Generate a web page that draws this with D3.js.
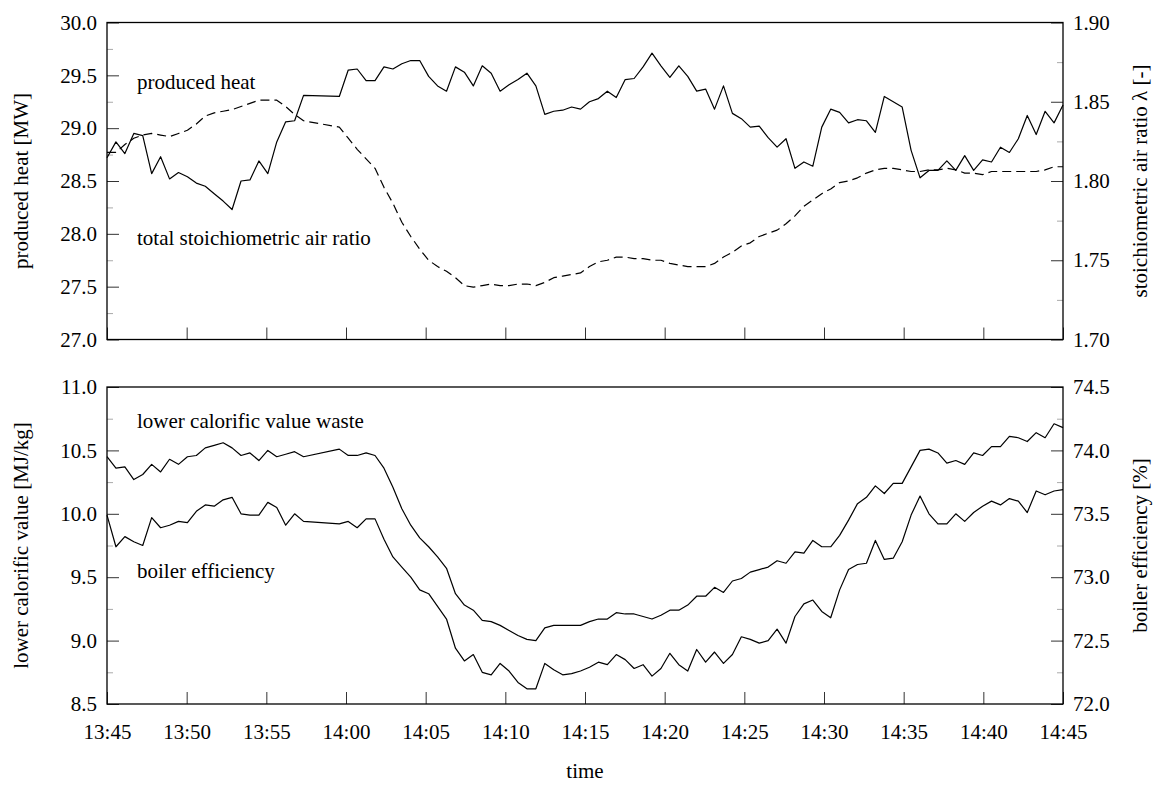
<!DOCTYPE html>
<html><head><meta charset="utf-8">
<script src="https://cdn.jsdelivr.net/npm/d3@7"></script>
<style>
body{margin:0;background:#fff}
svg text{font-family:"Liberation Serif","Times New Roman",serif;fill:#000}
</style>
</head><body><svg id="chart" width="1164" height="788"></svg>
<script>
// ---------- data ----------
const startTime = "13:45";
const endTime = "14:45";
const sampleCount = 108; // evenly spaced samples between start and end (null = no sample drawn)
const xTickLabels = ["13:45","13:50","13:55","14:00","14:05","14:10","14:15","14:20","14:25","14:30","14:35","14:40","14:45"];

const producedHeat = [
 28.72,28.87,28.76,28.95,28.93,28.57,28.73,28.52,28.58,28.54,
 28.48,28.45,28.38,28.31,28.23,28.50,28.51,28.69,28.57,28.87,
 29.06,29.07,29.31,null,null,null,29.30,29.55,29.56,29.45,
 29.45,29.58,29.56,29.61,29.64,29.64,29.49,29.40,29.35,29.58,
 29.53,29.40,29.59,29.52,29.35,29.41,29.46,29.52,29.40,29.13,
 29.16,29.17,29.20,29.18,29.25,29.28,29.35,29.29,29.46,29.47,
 29.58,29.71,29.59,29.48,29.59,29.49,29.35,29.37,29.18,29.40,
 29.14,29.09,29.01,29.02,28.91,28.82,28.90,28.62,28.68,28.64,
 29.01,29.18,29.15,29.05,29.08,29.07,28.96,29.30,null,29.20,
 28.79,28.53,28.60,28.60,28.69,28.60,28.74,28.60,28.70,28.68,
 28.82,28.77,28.90,29.12,28.94,29.16,29.05,29.22];

const airRatio = [
 1.818,1.818,1.823,1.827,1.829,1.830,1.829,1.828,1.830,1.832,
 1.836,1.841,1.843,1.844,1.845,1.847,1.849,1.851,1.851,1.851,
 1.847,1.842,1.838,null,null,null,1.834,1.827,1.820,1.814,
 1.808,1.796,1.786,1.774,1.765,1.757,1.750,1.746,1.743,1.739,
 1.734,1.733,1.734,1.735,1.734,1.734,1.735,1.735,1.734,1.736,
 1.739,1.740,1.741,1.742,1.746,1.749,1.750,1.752,1.752,1.751,
 1.751,1.750,1.750,1.748,1.747,1.746,1.746,1.746,1.748,1.752,
 1.755,1.759,1.761,1.765,1.767,1.769,1.773,1.778,1.784,1.788,
 1.792,1.795,1.799,1.800,1.802,1.805,1.807,1.808,1.808,1.807,
 1.806,1.806,1.807,1.807,1.808,1.807,1.805,1.805,1.804,1.806,
 1.806,1.806,1.806,1.806,1.806,1.807,1.809,1.809];

const lowerCalorificValue = [
 10.45,10.36,10.37,10.27,10.31,10.39,10.33,10.43,10.39,10.45,
 10.46,10.52,10.54,10.56,10.52,10.46,10.48,10.42,10.50,10.45,
 10.47,10.49,10.45,null,null,null,10.51,10.46,10.46,10.48,
 10.46,10.36,10.21,10.04,9.91,9.81,9.74,9.66,9.57,9.37,
 9.28,9.24,9.16,9.15,9.12,9.08,9.04,9.01,9.00,9.10,
 9.12,9.12,9.12,9.12,9.15,9.17,9.17,9.22,9.21,9.21,
 9.19,9.17,9.20,9.24,9.24,9.28,9.35,9.35,9.42,9.38,
 9.47,9.49,9.54,9.56,9.58,9.63,9.61,9.70,9.69,9.79,
 9.74,9.74,9.83,9.95,10.08,10.13,10.22,10.16,10.24,10.24,
 10.37,10.50,10.51,10.48,10.40,10.42,10.39,10.48,10.46,10.53,
 10.53,10.61,10.60,10.57,10.64,10.60,10.71,10.68];

const boilerEfficiency = [
 73.49,73.24,73.32,73.28,73.25,73.47,73.39,73.41,73.44,73.43,
 73.52,73.57,73.56,73.61,73.63,73.50,73.49,73.49,73.59,73.55,
 73.41,73.50,73.44,null,null,null,73.42,73.44,73.39,73.46,
 73.46,73.30,73.16,73.08,73.00,72.90,72.87,72.77,72.67,72.44,
 72.34,72.39,72.25,72.23,72.32,72.26,72.17,72.12,72.12,72.32,
 72.27,72.23,72.24,72.26,72.29,72.33,72.31,72.39,72.35,72.28,
 72.31,72.22,72.28,72.40,72.31,72.26,72.43,72.33,72.41,72.32,
 72.39,72.53,72.51,72.48,72.50,72.59,72.48,72.69,72.79,72.82,
 72.73,72.68,72.90,73.06,73.10,73.11,73.29,73.14,73.15,73.28,
 73.49,73.64,73.50,73.42,73.42,73.50,73.44,73.51,73.56,73.60,
 73.57,73.62,73.60,73.51,73.68,73.65,73.68,73.69];

// ---------- layout ----------
const svg = d3.select("#chart");
const X0 = 107, X1 = 1063;
const FS = 21;
const parseT = d3.timeParse("%H:%M");
const t0 = parseT(startTime), t1 = parseT(endTime);
const times = d3.range(sampleCount).map(i => new Date(+t0 + i * (t1 - t0) / (sampleCount - 1)));
const x = d3.scaleTime().domain([t0, t1]).range([X0, X1]);
const xTicks = xTickLabels.map(parseT);

const panels = [
  {top: 22.5, bottom: 339.5,
   left: {domain: [27, 30], step: 0.5, fmt: ".1f", title: "produced heat [MW]"},
   right: {domain: [1.70, 1.90], step: 0.05, fmt: ".2f", title: "stoichiometric air ratio \u03bb [-]"},
   series: [{data: producedHeat, axis: "left", dash: null}, {data: airRatio, axis: "right", dash: "9,5"}],
   labels: [{text: "produced heat", y: 89}, {text: "total stoichiometric air ratio", y: 245}],
   xLabels: false},
  {top: 387, bottom: 704,
   left: {domain: [8.5, 11], step: 0.5, fmt: ".1f", title: "lower calorific value [MJ/kg]"},
   right: {domain: [72, 74.5], step: 0.5, fmt: ".1f", title: "boiler efficiency [%]"},
   series: [{data: lowerCalorificValue, axis: "left", dash: null}, {data: boilerEfficiency, axis: "right", dash: null}],
   labels: [{text: "lower calorific value waste", y: 428}, {text: "boiler efficiency", y: 578}],
   xLabels: true}
];

function styleAxis(g, major) {
  g.select(".domain").remove();
  g.selectAll(".tick line").attr("stroke", major ? "#333" : "#aaa").attr("stroke-width", 1);
  g.selectAll(".tick text").attr("font-size", FS).attr("font-family", "Liberation Serif").attr("fill", "#000");
}

panels.forEach(p => {
  const yl = d3.scaleLinear().domain(p.left.domain).range([p.bottom, p.top]);
  const yr = d3.scaleLinear().domain(p.right.domain).range([p.bottom, p.top]);
  const majors = (d, s) => d3.range(Math.round((d[1] - d[0]) / s) + 1).map(i => +(d[0] + i * s).toFixed(4));
  const minors = (d, s) => d3.range(Math.round((d[1] - d[0]) / s)).map(i => +(d[0] + (i + 0.5) * s).toFixed(4));

  svg.append("g").attr("transform", `translate(${X0},0)`)
    .call(d3.axisLeft(yl).tickValues(majors(p.left.domain, p.left.step)).tickSize(-12).tickPadding(10).tickFormat(d3.format(p.left.fmt)))
    .call(g => styleAxis(g, true));
  svg.append("g").attr("transform", `translate(${X0},0)`)
    .call(d3.axisLeft(yl).tickValues(minors(p.left.domain, p.left.step)).tickSize(-6).tickFormat(""))
    .call(g => styleAxis(g, false));
  svg.append("g").attr("transform", `translate(${X1},0)`)
    .call(d3.axisRight(yr).tickValues(majors(p.right.domain, p.right.step)).tickSize(-12).tickPadding(10).tickFormat(d3.format(p.right.fmt)))
    .call(g => styleAxis(g, true));
  svg.append("g").attr("transform", `translate(${X1},0)`)
    .call(d3.axisRight(yr).tickValues(minors(p.right.domain, p.right.step)).tickSize(-6).tickFormat(""))
    .call(g => styleAxis(g, false));
  svg.append("g").attr("transform", `translate(0,${p.bottom})`)
    .call(d3.axisBottom(x).tickValues(xTicks).tickSize(-12).tickPadding(20)
      .tickFormat(p.xLabels ? d3.timeFormat("%H:%M") : ""))
    .call(g => styleAxis(g, true));

  svg.append("rect").attr("x", X0).attr("y", p.top).attr("width", X1 - X0).attr("height", p.bottom - p.top)
    .attr("fill", "none").attr("stroke", "#000").attr("stroke-width", 1.3);

  p.series.forEach(s => {
    const ys = s.axis === "left" ? yl : yr;
    const pts = times.map((t, i) => ({t, v: s.data[i]})).filter(d => d.v != null);
    svg.append("path").datum(pts)
      .attr("fill", "none").attr("stroke", "#000").attr("stroke-width", 1.2)
      .attr("stroke-linejoin", "round")
      .attr("stroke-dasharray", s.dash)
      .attr("d", d3.line().x(d => x(d.t)).y(d => ys(d.v)));
  });

  p.labels.forEach(l => {
    svg.append("text").attr("x", 137).attr("y", l.y).attr("font-size", FS).text(l.text);
  });

  const cy = (p.top + p.bottom) / 2;
  svg.append("text").attr("transform", `translate(28,${cy}) rotate(-90)`)
    .attr("text-anchor", "middle").attr("font-size", FS).text(p.left.title);
  svg.append("text").attr("transform", `translate(1147,${cy}) rotate(-90)`)
    .attr("text-anchor", "middle").attr("font-size", FS).text(p.right.title);
});

svg.append("text").attr("x", (X0 + X1) / 2).attr("y", 778).attr("text-anchor", "middle")
  .attr("font-size", FS).text("time");
</script>
</body></html>
